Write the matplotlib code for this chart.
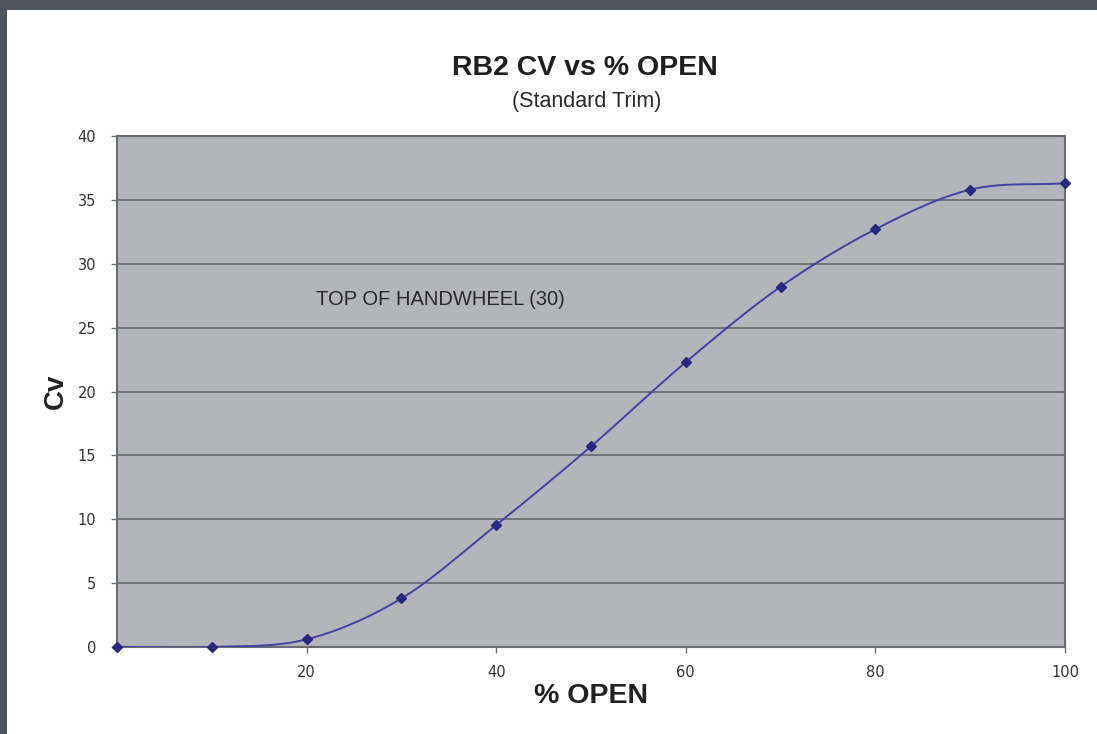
import numpy as np
import matplotlib
matplotlib.use("Agg")
import matplotlib.pyplot as plt
from matplotlib.patches import Rectangle

# dados
pct_open = [0, 10, 20, 30, 40, 50, 60, 70, 80, 90, 100]
cv = [0.0, 0.0, 0.6, 3.8, 9.55, 15.7, 22.3, 28.2, 32.7, 35.8, 36.3]
x_ticks = [20, 40, 60, 80, 100]
y_ticks = [0, 5, 10, 15, 20, 25, 30, 35, 40]

plt.rcParams['font.family'] = ['Liberation Sans', 'DejaVu Sans']


def suavizar(x, y, n=30):
    # curva suave tipo Excel (Catmull-Rom) passando pelos pontos
    x = np.asarray(x, float)
    y = np.asarray(y, float)
    px = np.concatenate([[2 * x[0] - x[1]], x, [2 * x[-1] - x[-2]]])
    py = np.concatenate([[2 * y[0] - y[1]], y, [2 * y[-1] - y[-2]]])
    xs, ys = [], []
    t = np.linspace(0, 1, n)
    for i in range(1, len(px) - 2):
        for arr, out in ((px, xs), (py, ys)):
            p0, p1, p2, p3 = arr[i - 1], arr[i], arr[i + 1], arr[i + 2]
            out.extend(0.5 * ((2 * p1) + (-p0 + p2) * t
                              + (2 * p0 - 5 * p1 + 4 * p2 - p3) * t ** 2
                              + (-p0 + 3 * p1 - 3 * p2 + p3) * t ** 3))
    return np.array(xs), np.array(ys)


fig = plt.figure(figsize=(10.97, 7.34), dpi=100)
fig.patch.set_facecolor('white')

# moldura escura (topo e esquerda)
fig.patches.append(Rectangle((0, 1 - 10 / 734), 1, 10 / 734, transform=fig.transFigure,
                             facecolor='#4f555c', edgecolor='none', zorder=10))
fig.patches.append(Rectangle((0, 0), 7 / 1097, 1, transform=fig.transFigure,
                             facecolor='#4f555c', edgecolor='none', zorder=10))

ax = fig.add_axes([117 / 1097, 1 - 647 / 734, (1065 - 117) / 1097, (647 - 136) / 734])
ax.set_facecolor('#b3b5ba')

xs, ys = suavizar(pct_open, cv)
ax.plot(xs, ys, color='#4242a4', lw=1.4, zorder=3)
ax.plot(pct_open, cv, linestyle='none', marker='D', markersize=5.5,
        color='#27287f', zorder=4, clip_on=False)

ax.set_xlim(0, 100)
ax.set_ylim(0, 40)
ax.set_xticks(x_ticks)
ax.set_yticks(y_ticks)
ax.yaxis.grid(True, color='#6a6c70', lw=1.3)
ax.set_axisbelow(True)
ax.tick_params(axis='both', labelsize=10.5, colors='#6a6c70', labelcolor='#333333',
               length=4, width=1)
for lbl in ax.get_xticklabels() + ax.get_yticklabels():
    lbl.set_family('DejaVu Sans')
ax.tick_params(axis='x', pad=9)
ax.tick_params(axis='y', pad=11)
for s in ax.spines.values():
    s.set_color('#6a6c70')
    s.set_linewidth(1.5)

ax.set_xlabel('% OPEN', fontsize=20.5, fontweight='bold', color='#222222', labelpad=2)
ax.set_ylabel('Cv', fontsize=20, fontweight='bold', color='#222222', labelpad=6)

ax.text(21, 27.2, 'TOP OF HANDWHEEL (30)', fontsize=14.5, color='#2a2a2a', va='center')

fig.text(585 / 1097, 1 - 68 / 734, 'RB2 CV vs % OPEN', fontsize=20.5, fontweight='bold',
         color='#1e1e1e', ha='center', va='center')
fig.text(587 / 1097, 1 - 101 / 734, '(Standard Trim)', fontsize=15.5,
         color='#2a2a2a', ha='center', va='center')

fig.savefig('out.png', dpi=100, facecolor='white')
